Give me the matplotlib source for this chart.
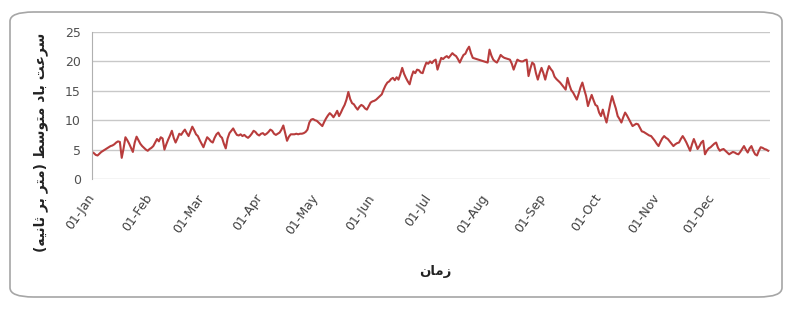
import matplotlib
matplotlib.use("Agg")
import matplotlib.pyplot as plt
from matplotlib.patches import FancyBboxPatch

# ---- data (daily mean wind speed) ----
jan = [4.6, 4.4, 4.1, 4.0, 4.3, 4.6, 4.8, 5.0, 5.2, 5.4, 5.6, 5.7, 5.9, 6.2, 6.4, 6.3,
       3.6, 5.2, 7.1, 6.6, 6.0, 5.3, 4.6, 6.2, 7.2, 6.6, 6.0, 5.6, 5.3, 5.0, 4.8]
feb = [5.1, 5.3, 5.6, 6.2, 6.8, 6.4, 7.1, 6.9, 5.0, 5.9, 6.7, 7.4, 8.2, 7.0, 6.2, 6.9,
       7.7, 7.5, 8.0, 8.4, 7.8, 7.3, 8.1, 8.9, 8.3, 7.6, 7.3, 6.6]
mar = [6.0, 5.4, 6.3, 7.1, 6.8, 6.4, 6.2, 7.0, 7.6, 7.9, 7.3, 7.0, 6.0, 5.2, 6.9, 7.8,
       8.2, 8.6, 8.0, 7.5, 7.4, 7.6, 7.3, 7.5, 7.2, 7.0, 7.3, 7.7, 8.2, 8.0, 7.6]
apr = [7.4, 7.7, 7.8, 7.5, 7.7, 8.0, 8.4, 8.2, 7.7, 7.5, 7.7, 7.9, 8.4, 9.1, 7.8,
       6.5, 7.2, 7.6, 7.6, 7.6, 7.7, 7.6, 7.7, 7.7, 7.8, 8.0, 8.4, 9.6, 10.1, 10.2]
may = [10.0, 9.9, 9.6, 9.3, 9.0, 9.7, 10.3, 10.8, 11.2, 10.9, 10.5, 11.0, 11.6, 10.7,
       11.3, 12.0, 12.6, 13.5, 14.8, 13.6, 12.9, 12.7, 12.2, 11.8, 12.3, 12.6, 12.4,
       12.0, 11.8, 12.4, 13.0]
jun = [13.2, 13.3, 13.5, 13.8, 14.1, 14.4, 15.2, 15.9, 16.4, 16.6, 17.0, 17.2, 16.8,
       17.3, 16.9, 17.8, 18.9, 17.9, 17.2, 16.6, 16.1, 17.4, 18.3, 18.0, 18.6, 18.5,
       18.1, 18.0, 19.0, 19.8]
jul = [19.6, 20.0, 19.7, 20.1, 20.3, 18.6, 19.6, 20.6, 20.4, 20.7, 20.9, 20.6, 21.0,
       21.4, 21.1, 20.9, 20.4, 19.8, 20.5, 21.1, 21.3, 22.0, 22.5, 21.4, 20.6, 20.5,
       20.4, 20.3, 20.2, 20.1, 20.0]
aug = [19.9, 19.8, 22.0, 21.0, 20.3, 20.0, 19.8, 20.4, 21.1, 20.8, 20.6, 20.5, 20.4,
       20.3, 19.6, 18.6, 19.5, 20.3, 20.1, 20.0, 20.0, 20.2, 20.3, 17.5, 18.8, 19.8,
       19.5, 18.0, 16.9, 18.0, 18.9]
sep = [18.0, 16.9, 18.2, 19.2, 18.7, 18.3, 17.4, 17.0, 16.7, 16.4, 16.0, 15.6, 15.2,
       17.2, 16.0, 15.1, 14.7, 14.1, 13.5, 14.5, 15.6, 16.4, 15.2, 14.1, 12.4, 13.4,
       14.3, 13.4, 12.6, 12.4]
oct_ = [11.3, 10.7, 11.8, 10.6, 9.6, 11.2, 12.8, 14.1, 13.0, 12.0, 10.7, 10.2, 9.6,
        10.5, 11.3, 10.8, 10.2, 9.6, 9.0, 9.2, 9.4, 9.3, 8.7, 8.1, 8.0, 7.8, 7.6, 7.4,
        7.3, 6.9, 6.5]
nov = [6.0, 5.6, 6.3, 6.9, 7.3, 7.0, 6.8, 6.4, 6.0, 5.6, 5.9, 6.1, 6.2, 6.8, 7.3, 6.8,
       6.2, 5.5, 4.8, 5.9, 6.8, 6.0, 5.1, 5.6, 6.2, 6.5, 4.2, 4.8, 5.2, 5.4]
dec = [5.7, 6.0, 6.2, 5.3, 4.8, 5.0, 5.1, 4.8, 4.5, 4.2, 4.4, 4.6, 4.5, 4.3, 4.2, 4.6,
       5.1, 5.6, 5.0, 4.5, 5.2, 5.6, 4.8, 4.2, 4.0, 4.8, 5.4, 5.3, 5.1, 5.0, 4.8]

months = [jan, feb, mar, apr, may, jun, jul, aug, sep, oct_, nov, dec]
month_labels = ["01-Jan", "01-Feb", "01-Mar", "01-Apr", "01-May", "01-Jun",
                "01-Jul", "01-Aug", "01-Sep", "01-Oct", "01-Nov", "01-Dec"]
y_ticks = [0, 5, 10, 15, 20, 25]

# Persian labels written in visual order with presentation forms
y_label = "(\uFEEA\uFEF4\uFEE7\uFE8E\uFE9B \uFEAE\uFE91 \uFEAE\uFE98\uFEE3) \uFEC2\uFEB3\uFEEE\uFE98\uFEE3 \uFEA9\uFE8E\uFE91 \uFE96\uFECB\uFEAE\uFEB3"
x_label = "\uFEE5\uFE8E\uFEE3\uFEAF"

values = [v for m in months for v in m]
days = list(range(len(values)))
month_starts = []
acc = 0
for m in months:
    month_starts.append(acc)
    acc += len(m)

W, H = 785, 309
fig = plt.figure(figsize=(W / 100, H / 100), dpi=100)
fig.patch.set_facecolor("white")

frame = FancyBboxPatch((10 / W, 1 - 297 / H), 772 / W, 285 / H,
                       boxstyle="round,pad=0,rounding_size=0.03",
                       transform=fig.transFigure, facecolor="white",
                       edgecolor="#a6a6a6", linewidth=1.2, zorder=-10)
fig.patches.append(frame)

ax = fig.add_axes([92 / W, 1 - 179 / H, 678 / W, 147 / H])
ax.set_zorder(5)
ax.set_facecolor("none")
ax.plot(days, values, color="#b83c3c", linewidth=1.5, solid_joinstyle="round")

ax.set_xlim(0, 365)
ax.set_ylim(0, 25)
ax.set_yticks(y_ticks)
ax.set_xticks(month_starts)
ax.set_xticklabels(month_labels, rotation=55, ha="right", va="center",
                   rotation_mode="anchor", fontsize=9, color="#404040")
ax.tick_params(axis="x", length=0, pad=12)
ax.tick_params(axis="y", length=0, pad=8, labelsize=9, labelcolor="#505050")
ax.grid(axis="y", color="#c8c8c8", linewidth=1.0)
ax.set_axisbelow(True)
for s in ["top", "right", "bottom"]:
    ax.spines[s].set_visible(False)
ax.spines["left"].set_color("#b0b0b0")

fig.text(435 / W, 1 - 272 / H, x_label, ha="center", va="center",
         fontsize=9.5, fontweight="bold", family=["DejaVu Sans"], color="#222222")
fig.text(41 / W, 1 - 142 / H, y_label, ha="center", va="center", rotation=90,
         fontsize=10, fontweight="bold", family=["DejaVu Sans"], color="#222222")

fig.savefig("out.png", dpi=100)
